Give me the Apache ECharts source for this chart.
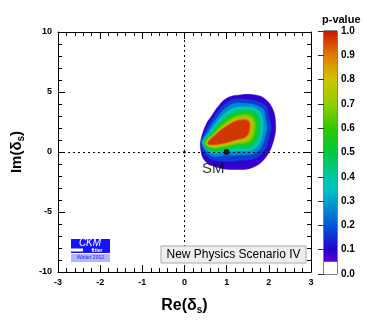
<!DOCTYPE html>
<html><head><meta charset="utf-8">
<script src="https://cdn.jsdelivr.net/npm/echarts@6/dist/echarts.min.js"></script>
<style>html,body{margin:0;padding:0;background:#fff}#c{width:367px;height:320px}</style>
</head><body><div id="c"></div>
<script>
// ---------- data ----------
const xRange = [-3, 3];
const yRange = [-10, 10];
const xTickStep = 1;
const yTickStep = 5;
const contourLevels = [0.05, 0.1, 0.2, 0.3, 0.4, 0.5, 0.6, 0.7, 0.8, 0.9];
const contourP05 = [[1.36,4.77],[1.01,4.50],[0.77,3.67],[0.65,3.04],[0.53,2.42],[0.41,1.31],[0.38,0.35],[0.49,-0.76],[0.81,-1.31],[1.21,-1.45],[1.60,-1.31],[1.92,-0.48],[2.12,1.04],[2.16,2.42],[2.08,3.67],[1.88,4.50],[1.64,4.77]];
const contourP10 = [[0.40,0.76],[0.48,1.59],[0.70,2.94],[1.01,4.14],[1.29,4.44],[1.90,3.92],[2.01,2.84],[2.05,1.87],[1.80,-0.26],[1.21,-0.76],[0.93,-0.76],[0.65,-0.62],[0.45,-0.07]];
const contourP20 = [[0.41,0.76],[0.53,1.59],[0.76,2.80],[1.01,3.75],[1.29,4.08],[1.83,3.69],[1.92,2.84],[1.95,1.87],[1.73,0.05],[1.21,-0.26],[0.93,-0.29],[0.65,-0.32]];
const contourP30 = [[0.43,0.76],[0.58,1.59],[0.81,2.68],[1.01,3.36],[1.29,3.75],[1.76,3.46],[1.86,1.87],[1.68,0.31],[1.21,0.07],[0.93,-0.01],[0.65,-0.07]];
const contourP40 = [[0.45,0.76],[0.63,1.59],[0.86,2.57],[1.01,3.03],[1.29,3.47],[1.71,3.26],[1.79,1.87],[1.63,0.53],[1.21,0.29],[0.93,0.15],[0.65,0.10]];
const contourP50 = [[0.46,0.76],[0.67,1.59],[0.90,2.47],[1.29,3.25],[1.66,3.08],[1.73,1.87],[1.59,0.73],[1.21,0.49],[0.93,0.29],[0.65,0.24]];
const contourP60 = [[0.49,0.76],[0.71,1.59],[0.94,2.37],[1.29,3.06],[1.61,2.93],[1.67,1.87],[1.55,0.91],[1.21,0.65],[0.93,0.43],[0.65,0.35]];
const contourP70 = [[0.51,0.76],[0.75,1.59],[0.97,2.30],[1.29,2.86],[1.57,2.77],[1.61,1.87],[1.51,1.09],[1.21,0.82],[0.93,0.57],[0.65,0.46]];
const contourP80 = [[0.53,0.76],[0.77,1.59],[1.00,2.24],[1.29,2.74],[1.54,2.67],[1.57,1.87],[1.49,1.20],[1.21,0.92],[0.93,0.66],[0.65,0.54]];
const contourP90 = [[0.55,0.76],[0.79,1.59],[1.02,2.19],[1.29,2.62],[1.51,2.56],[1.53,1.87],[1.46,1.32],[1.21,1.02],[0.93,0.75],[0.65,0.62]];
const smPoint = [1, 0];
const originPoint = [0, 0];
const smLabelText = 'SM';
const smLabelPos = [0.68, -1.4];
const colorbarRange = [0, 1];
const colorbarStep = 0.1;
const colorbarBlankTop = 0.05;
const legendText = 'New Physics Scenario IV';

// ---------- styling ----------
const FONT = '"Liberation Sans", Arial, Helvetica, sans-serif';
const palette = [
  [0.05,'#5a00d0'],[0.10,'#2200cc'],[0.20,'#0058d8'],[0.30,'#00a0cc'],[0.35,'#00c4c4'],
  [0.40,'#00c8a0'],[0.50,'#00c840'],[0.60,'#30c800'],[0.70,'#90d000'],[0.80,'#d0c400'],
  [0.90,'#e07c00'],[1.00,'#cc1800']
];
function hex(h){return [1,3,5].map(i=>parseInt(h.substr(i,2),16));}
function colorAt(v){
  if (v<=palette[0][0]) return palette[0][1];
  for (let i=1;i<palette.length;i++){
    if (v<=palette[i][0]){
      const [a,ca]=palette[i-1],[b,cb]=palette[i];
      const t=(v-a)/(b-a), A=hex(ca), B=hex(cb);
      return 'rgb('+A.map((x,k)=>Math.round(x+(B[k]-x)*t)).join(',')+')';
    }
  }
  return palette[palette.length-1][1];
}
const contours = [contourP05,contourP10,contourP20,contourP30,contourP40,contourP50,contourP60,contourP70,contourP80,contourP90];
const bandColors = contourLevels.map((l,i)=>{
  const hi = i+1<contourLevels.length?contourLevels[i+1]:1;
  return colorAt(l + 0.7*(hi-l));
});

function axisBase(showLabel){
  return {
    type:'value',
    axisLine:{show:true,onZero:false,lineStyle:{color:'#000',width:1}},
    axisTick:{show:true,inside:true,length:7,lineStyle:{color:'#000'}},
    minorTick:{show:true,splitNumber:5,length:4,lineStyle:{color:'#000'}},
    splitLine:{show:false},minorSplitLine:{show:false},
    axisLabel:{show:showLabel,color:'#000',fontWeight:'bold',fontSize:9,fontFamily:FONT}
  };
}
const xBottom = Object.assign(axisBase(true),{gridIndex:0,position:'bottom',min:xRange[0],max:xRange[1],interval:xTickStep,
  name:'{a|Re(δ}{b|s}{a|)}',nameLocation:'middle',nameGap:24,
  nameTextStyle:{rich:{a:{fontSize:16,fontWeight:'bold',fontFamily:FONT,color:'#000'},b:{fontSize:10,fontWeight:'bold',fontFamily:FONT,color:'#000',padding:[9,0,0,0]}}}});
xBottom.axisLabel.margin=6;
const xTop = Object.assign(axisBase(false),{gridIndex:0,position:'top',min:xRange[0],max:xRange[1],interval:xTickStep});
const yLeft = Object.assign(axisBase(true),{gridIndex:0,position:'left',min:yRange[0],max:yRange[1],interval:yTickStep,
  name:'{a|Im(δ}{b|s}{a|)}',nameLocation:'middle',nameGap:32,
  nameTextStyle:{rich:{a:{fontSize:15,fontWeight:'bold',fontFamily:FONT,color:'#000'},b:{fontSize:10,fontWeight:'bold',fontFamily:FONT,color:'#000',padding:[9,0,0,0]}}}});
yLeft.axisLabel.margin=6;
const yRight = Object.assign(axisBase(false),{gridIndex:0,position:'right',min:yRange[0],max:yRange[1],interval:yTickStep});

const option = {
  animation:false,
  backgroundColor:'#fff',
  grid:[
    {left:58,top:32,width:253,height:241,show:false},
    {left:324,top:31,width:13,height:243,show:true,borderColor:'#000',borderWidth:1,backgroundColor:'transparent'}
  ],
  xAxis:[xBottom,xTop,{type:'value',gridIndex:1,min:0,max:1,show:false}],
  yAxis:[yLeft,yRight,{type:'value',gridIndex:1,min:colorbarRange[0],max:colorbarRange[1],interval:colorbarStep,position:'right',
    axisLine:{show:false},axisTick:{show:true,inside:true,length:6,lineStyle:{color:'#333'}},splitLine:{show:false},
    axisLabel:{color:'#000',fontWeight:'bold',fontSize:10,fontFamily:FONT,margin:4,formatter:v=>v.toFixed(1)}}],
  series:[
    {
      type:'custom',xAxisIndex:0,yAxisIndex:0,clip:true,
      data:contours.map((c,i)=>[c[0][0],c[0][1],contourLevels[i]]),
      encode:{x:0,y:1},
      renderItem:function(params,api){
        const i=params.dataIndex;
        const pts=contours[i].map(p=>api.coord(p));
        return {type:'polygon',shape:{points:pts,smooth:0.4},style:{fill:bandColors[i],stroke:bandColors[i],lineWidth:0.5}};
      },
      z:1
    },
    {
      type:'scatter',xAxisIndex:0,yAxisIndex:0,data:[smPoint],symbolSize:6,itemStyle:{color:'#000'},z:5,
      markLine:{silent:true,symbol:['none','none'],label:{show:false},
        lineStyle:{color:'#000',type:[2,3],width:1},
        data:[{xAxis:0},{yAxis:0}]}
    },
    {type:'scatter',xAxisIndex:0,yAxisIndex:0,data:[originPoint],symbolSize:3,itemStyle:{color:'#000'},z:5},
    {type:'scatter',xAxisIndex:0,yAxisIndex:0,data:[smLabelPos],symbolSize:0,z:5,
      label:{show:true,position:'inside',formatter:smLabelText,color:'#000',fontSize:15,fontFamily:FONT}},
    {
      type:'custom',xAxisIndex:2,yAxisIndex:2,
      data:[[0,colorbarRange[0]],[0,colorbarBlankTop]],
      renderItem:function(params,api){
        const i=params.dataIndex;
        const lo = i===0?colorbarRange[0]:colorbarBlankTop;
        const hi = i===0?colorbarBlankTop:colorbarRange[1];
        const p0=api.coord([0,hi]), p1=api.coord([1,lo]);
        const fill = i===0?'#fff':{type:'linear',x:0,y:1,x2:0,y2:0,
          colorStops:palette.map(([v,c])=>({offset:(v-colorbarBlankTop)/(1-colorbarBlankTop),color:c}))};
        return {type:'rect',shape:{x:p0[0],y:p0[1],width:p1[0]-p0[0],height:p1[1]-p0[1]},style:{fill:fill}};
      },
      z:1
    }
  ],
  graphic:[
    {type:'text',left:322,top:14,style:{text:'p-value',font:'bold 11px '+FONT,fill:'#000'}},
    {type:'rect',shape:{x:161,y:246,width:145,height:17},style:{fill:'#eeeeee',stroke:'#aaaaaa',lineWidth:1},z:10},
    {type:'text',x:233.5,y:255,style:{text:legendText,font:'12px '+FONT,fill:'#000',align:'center',verticalAlign:'middle'},z:11},
    {type:'rect',shape:{x:71,y:239,width:39,height:9},style:{fill:'#1414ff'},z:10},
    {type:'text',x:90,y:243.5,style:{text:'CKM',font:'italic 10px '+FONT,fill:'#fff',align:'center',verticalAlign:'middle'},z:11},
    {type:'rect',shape:{x:71,y:248,width:39,height:5},style:{fill:'#1414ff'},z:10},
    {type:'rect',shape:{x:71,y:248.5,width:12,height:3},style:{fill:'#fff'},z:11},
    {type:'text',x:97,y:250.5,style:{text:'fitter',font:'bold 5px '+FONT,fill:'#fff',align:'center',verticalAlign:'middle'},z:11},
    {type:'rect',shape:{x:71,y:254,width:39,height:8},style:{fill:'#b4b4ff'},z:10},
    {type:'text',x:90.5,y:258,style:{text:'Winter 2012',font:'5px '+FONT,fill:'#2020ff',align:'center',verticalAlign:'middle'},z:11}
  ]
};
const chart = echarts.init(document.getElementById('c'));
chart.setOption(option);
</script>
</body></html>
